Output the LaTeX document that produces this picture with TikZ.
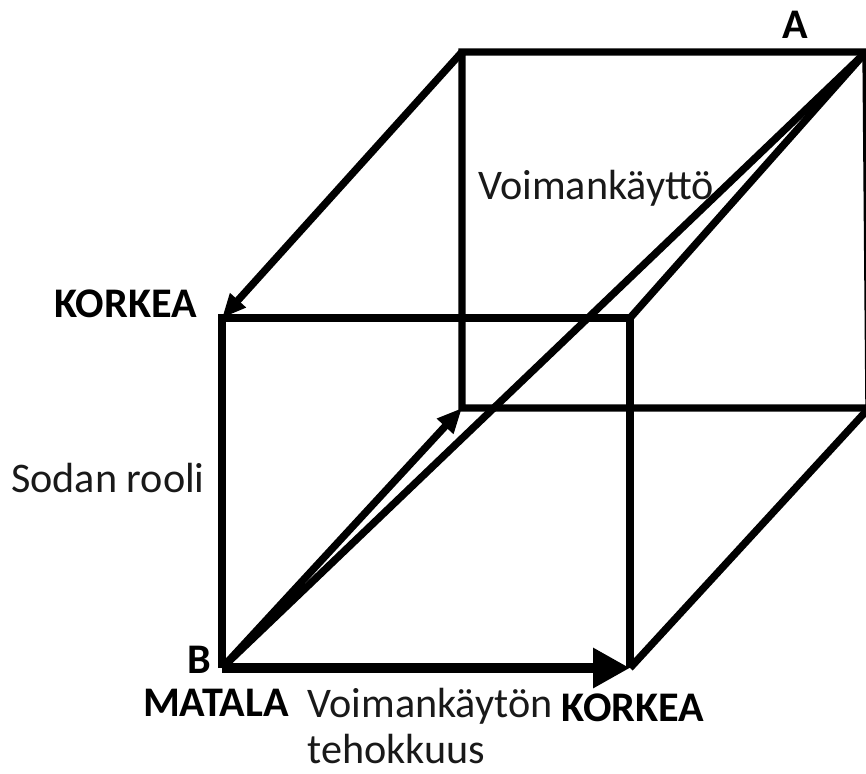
\documentclass[tikz,border=0pt]{standalone}
\usepackage{fontspec}
\setmainfont{Carlito}
\usetikzlibrary{arrows.meta, positioning}
\tikzset{
  edge/.style={line width=4.2pt, draw=black},
  axis/.style={edge, -{Triangle[length=4.8mm, width=4mm]}},
  mainaxis/.style={line width=5.4pt, draw=black, -{Triangle[length=7.4mm, width=7.6mm]}},
  txt/.style={inner sep=0pt, font=\fontsize{24}{26}\selectfont, text=black!90},
  tag/.style={txt, font=\fontsize{24}{26}\selectfont\bfseries, text=black},
}
\begin{document}
\begin{tikzpicture}[x=0.2mm, y=-0.2mm]
  \useasboundingbox (0,0) rectangle (866,773);

  % Cube corners
  \coordinate (B)   at (222,668);
  \coordinate (fbr) at (630,668);
  \coordinate (ftl) at (222,318);
  \coordinate (ftr) at (630,318);
  \coordinate (bbl) at (462,408);
  \coordinate (bbr) at (869,408);
  \coordinate (btl) at (462,52);
  \coordinate (A)   at (866,52);

  % Back face
  \draw[edge] (btl) -- (A) -- (bbr) -- (bbl) -- cycle;

  % Front face
  \draw[edge] (B) -- (ftl) -- (ftr) -- (fbr);

  % Depth edges
  \draw[axis] (btl) -- (ftl);
  \draw[edge] (ftr) -- (A);
  \draw[edge] (fbr) -- (bbr);

  % Axes from B
  \draw[axis, -{Triangle[length=5mm, width=4.2mm]}] (B) -- (bbl);
  \draw[edge] (B) -- (A);
  \draw[mainaxis] (B) -- (fbr);

  % Labels
  \node[tag] (lblA) at (795,25) {A};
  \node[tag] (lblB) at (199,660) {B};
  \node[tag, anchor=east] (highY) at (197,304) {KORKEA};
  \node[txt] (role) at (108,478) {Sodan rooli};
  \node[tag, anchor=east] (low) at (289,703) {MATALA};
  \node[txt, anchor=north west, align=left] (effect) at (307,688)
    {Voimankäytön\\tehokkuus};
  \node[tag] (highX) at (633,708) {KORKEA};
  \node[txt] (force) at (596,188) {Voimankäyttö};
\end{tikzpicture}
\end{document}
